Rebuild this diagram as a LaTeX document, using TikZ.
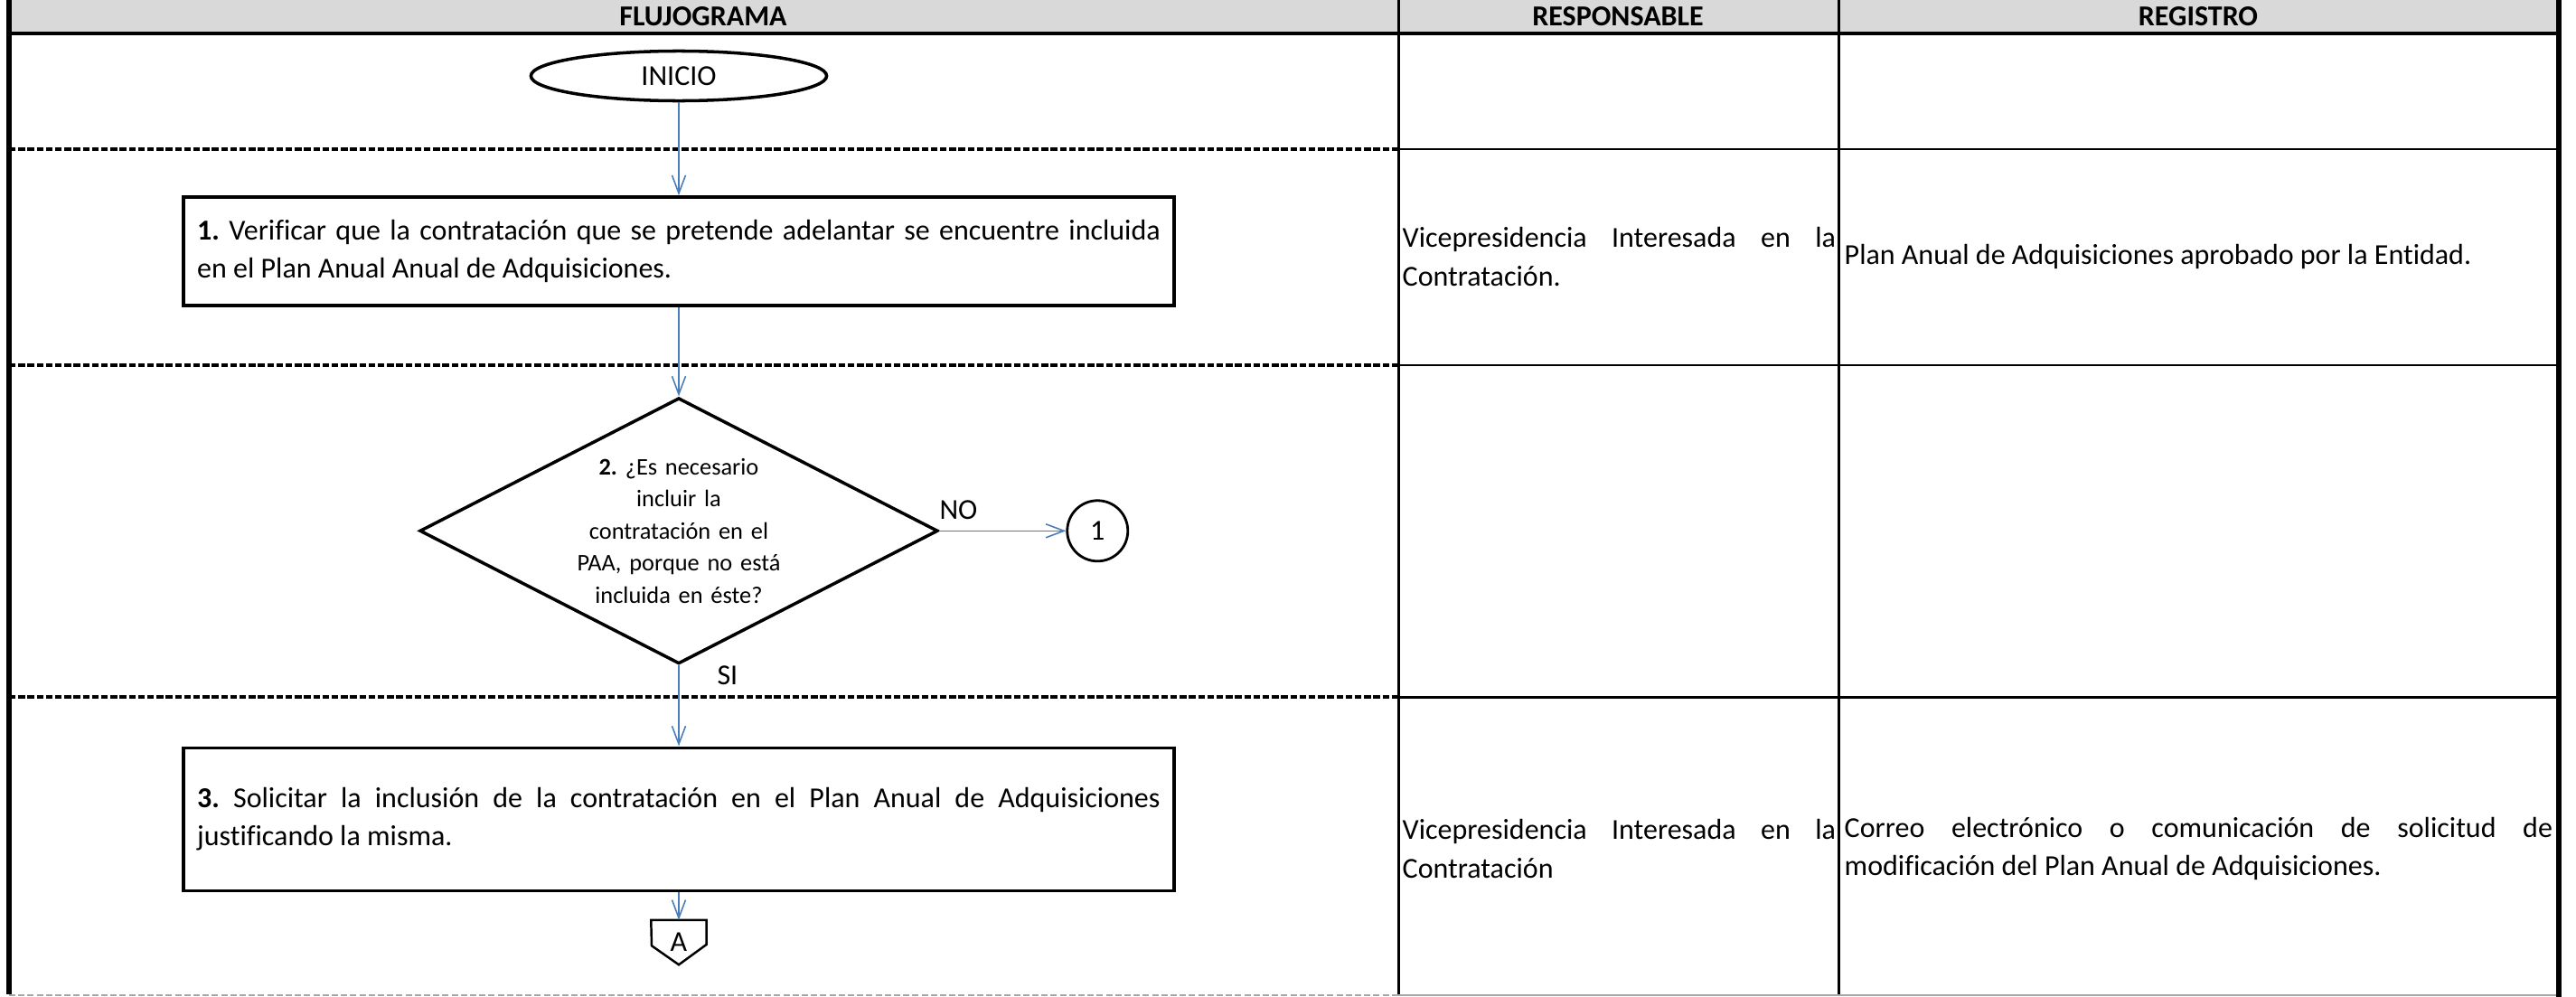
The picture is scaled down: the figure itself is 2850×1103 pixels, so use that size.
\documentclass[tikz,border=0pt]{standalone}
\usepackage{fontspec}
\setmainfont{Carlito}[Ligatures=NoCommon]
\usetikzlibrary{shapes,arrows.meta}

\definecolor{lineblue}{RGB}{74,126,187}
\definecolor{headgray}{RGB}{217,217,217}

\begin{document}
\frenchspacing
\begin{tikzpicture}[x=0.01cm, y=-0.01cm, node distance = 1.5cm, auto,
    font=\fontsize{9.1}{12}\selectfont]
  \tikzstyle{terminator} = [ellipse, draw, line width=1pt,
    minimum width=3.27cm, minimum height=0.55cm, inner sep=0pt]
  \tikzstyle{decision} = [diamond, draw, line width=1pt, aspect=1.95,
    text width=2.3cm, align=center, inner sep=0pt,
    minimum width=5.73cm, minimum height=2.94cm,
    font=\fontsize{7.5}{10.1}\selectfont]
  \tikzstyle{block} = [rectangle, draw, line width=1.1pt, text width=10.65cm,
    align=justify, inner xsep=0.15cm]
  \tikzstyle{connector} = [circle, draw, line width=0.8pt,
    minimum size=0.67cm, inner sep=0pt]
  \tikzstyle{offpage} = [inner sep=0pt, minimum width=0.6cm, minimum height=0.48cm]
  \tikzstyle{line} = [draw=lineblue, line width=0.45pt,
    -{Straight Barb[length=2mm, width=1.5mm]}]
  \tikzstyle{cell} = [inner sep=0pt, text width=4.79cm, align=justify, anchor=west]
  \tikzstyle{head} = [font=\fontsize{9.1}{12}\selectfont\bfseries]
  \tikzstyle{grid} = [line width=0.85pt]
  \tikzstyle{rowline} = [line width=0.9pt, dash pattern=on 2.1pt off 0.8pt]

  % Table
  \useasboundingbox (0,0) rectangle (2850,1103);
  \fill [headgray] (10,0) rectangle (2831,37);
  \draw [line width=1.3pt] (10,37) -- (2831,37);
  \draw [grid] (1547,0) -- (1547,1102);
  \draw [grid] (2034,0) -- (2034,1102);
  \foreach \y in {165,404,771} {
    \draw [rowline] (10,\y) -- (1547,\y);
    \draw [grid] (1547,\y) -- (2831,\y);
  }
  \draw [gray!70, line width=0.4pt, dash pattern=on 2pt off 0.9pt] (10,1101) -- (1547,1101);
  \draw [gray!70, line width=0.4pt] (1547,1101) -- (2831,1101);
  \draw [line width=1.7pt] (10,0) -- (10,1100);
  \draw [line width=1.7pt] (2831,0) -- (2831,1103);

  \node [head] (hflow) at (778,18) {FLUJOGRAMA};
  \node [head] (hresp) at (1790,18) {RESPONSABLE};
  \node [head] (hreg) at (2432,18) {REGISTRO};

  % Place nodes
  \node [terminator] (init) at (751,84) {INICIO};
  \node [block, below of=init, node distance=1.94cm, minimum height=1.2cm] (verify)
    {\textbf{1.} Verificar que la contratación que se pretende adelantar se encuentre incluida\linebreak
    en el Plan Anual Anual de Adquisiciones.};
  \node [decision, below of=verify, node distance=3.09cm] (question)
    {\textbf{2.} ¿Es necesario\\ incluir la\\ contratación en el\\ PAA, porque no está\\ incluida en éste?};
  \node [connector, right of=question, node distance=4.63cm] (goto1) {1};
  \node [block, below of=question, node distance=3.19cm, minimum height=1.58cm] (request)
    {\textbf{3.} Solicitar la inclusión de la contratación en el Plan Anual de Adquisiciones\linebreak
    justificando la misma.\par\vspace{0.3cm}};
  \node [offpage, below of=request, node distance=1.36cm] (offA) {A};
  \draw [line width=0.7pt] (offA.south) -- ++(-0.3cm,0.21cm) -- (offA.north west)
    -- (offA.north east) -- ++(0cm,-0.27cm) -- cycle;

  \node [cell] (resp1) at (1551,284) {Vicepresidencia Interesada en la\linebreak Contratación.};
  \node [cell, text width=7.83cm] (reg1) at (2040,284)
    {Plan Anual de Adquisiciones aprobado por la Entidad.};
  \node [cell] (resp3) at (1551,939) {Vicepresidencia Interesada en la\linebreak Contratación};
  \node [cell, text width=7.83cm] (reg3) at (2040,939)
    {Correo electrónico o comunicación de solicitud de\linebreak
    modificación del Plan Anual de Adquisiciones.};

  % Draw edges
  \path [line] (init) -- (verify);
  \path [line] (verify) -- (question);
  \path [line] (question) -- node [pos=0.15] {NO} (goto1);
  \path [line] (question) -- node [pos=0.12, xshift=0.3cm] {SI} (request);
  \path [line] (request) -- (offA);

\end{tikzpicture}
\end{document}
